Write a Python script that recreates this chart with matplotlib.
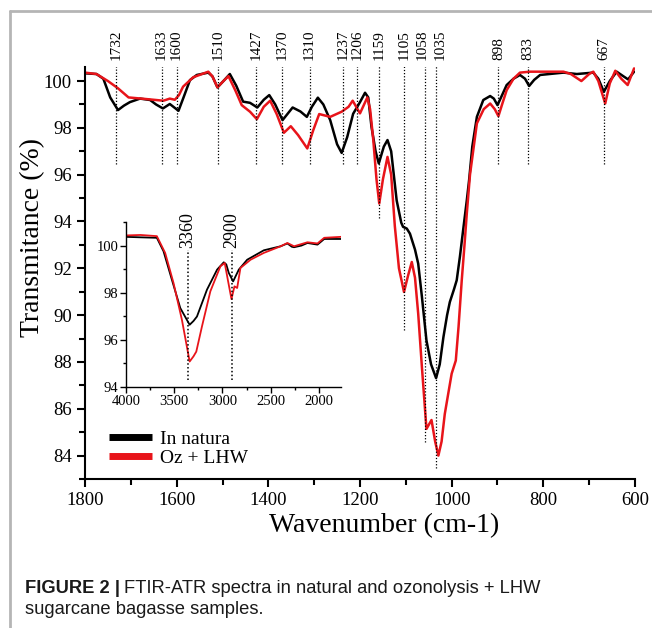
import numpy as np
import matplotlib
matplotlib.use("Agg")
import matplotlib.pyplot as plt
from matplotlib.lines import Line2D
from matplotlib.ticker import MultipleLocator

# main spectrum (1800-600 cm-1)
wn_natura = [1800, 1775, 1760, 1745, 1728, 1715, 1702, 1680, 1658, 1645, 1630, 1615, 1596, 1585,
             1571, 1556, 1531, 1522, 1511, 1498, 1484, 1470, 1455, 1440, 1424, 1410, 1398, 1385,
             1369, 1358, 1347, 1330, 1316, 1305, 1292, 1280, 1265, 1250, 1240, 1228, 1215, 1200,
             1189, 1182, 1175, 1166, 1159, 1148, 1140, 1132, 1120, 1110, 1106, 1098, 1091, 1080,
             1073, 1065, 1055, 1045, 1034, 1026, 1018, 1010, 1004, 995, 989, 982, 975, 967, 962,
             955, 945, 931, 916, 908, 900, 890, 880, 865, 851, 840, 831, 820, 807, 756, 727, 691,
             680, 668, 655, 640, 625, 615, 602]
t_natura = [100.33, 100.30, 100.1, 99.3, 98.76, 98.95, 99.1, 99.25, 99.19, 99.0, 98.83, 99.02, 98.73, 99.3,
            100.04, 100.26, 100.36, 100.2, 99.73, 100.0, 100.3, 99.8, 99.12, 99.07, 98.87, 99.2, 99.4, 99.0,
            98.33, 98.6, 98.87, 98.7, 98.47, 98.9, 99.29, 99.0, 98.33, 97.3, 96.93, 97.6, 98.6, 99.1,
            99.5, 99.3, 98.05, 97.0, 96.48, 97.2, 97.48, 97.0, 94.9, 93.95, 93.77, 93.7, 93.48, 92.8,
            92.2, 90.8, 88.92, 87.9, 87.31, 87.9, 89.06, 90.0, 90.56, 91.1, 91.49, 92.5, 93.63, 94.9, 95.76,
            97.2, 98.47, 99.19, 99.36, 99.25, 98.97, 99.4, 99.83, 100.1, 100.26, 100.1, 99.79, 100.05, 100.26, 100.36, 100.30, 100.36,
            100.1, 99.54, 100.0, 100.4, 100.2, 100.07, 100.4]

wn_oz = [1800, 1775, 1750, 1728, 1705, 1666, 1629, 1615, 1604, 1595, 1586, 1564, 1531, 1522, 1511,
         1498, 1487, 1472, 1458, 1440, 1425, 1410, 1396, 1382, 1366, 1351, 1335, 1315, 1302, 1289,
         1265, 1240, 1225, 1216, 1200, 1184, 1178, 1171, 1164, 1158, 1150, 1140, 1132, 1124, 1115,
         1104, 1095, 1087, 1080, 1073, 1065, 1055, 1044, 1036, 1029, 1022, 1015, 1007, 1000, 991,
         985, 978, 972, 967, 960, 945, 930, 916, 906, 898, 890, 880, 865, 851, 829, 756, 740, 717,
         700, 691, 680, 665, 655, 643, 630, 616, 602]
t_oz = [100.36, 100.30, 100.0, 99.69, 99.3, 99.23, 99.16, 99.25, 99.2, 99.4, 99.76, 100.16, 100.4, 100.2, 99.73,
        100.0, 100.21, 99.6, 98.97, 98.69, 98.37, 98.9, 99.16, 98.6, 97.79, 98.07, 97.69, 97.12, 97.9, 98.59,
        98.47, 98.69, 98.9, 99.16, 98.62, 99.3, 98.8, 97.48, 95.8, 94.77, 95.8, 96.76, 96.0, 93.8, 92.0,
        90.99, 91.7, 92.27, 91.6, 90.06, 87.8, 85.14, 85.52, 84.6, 84.0, 84.6, 85.78, 86.7, 87.5, 88.06,
        89.5, 91.49, 93.0, 94.34, 96.0, 98.19, 98.8, 99.04, 98.8, 98.5, 99.0, 99.61, 100.1, 100.36, 100.4, 100.4, 100.3, 100.0,
        100.3, 100.4, 100.0, 99.04, 99.9, 100.44, 100.1, 99.83, 100.54]

# inset spectrum (4000-1800 cm-1)
wn_ins_natura = [4000, 3850, 3680, 3611, 3524, 3437, 3340, 3300, 3264, 3160, 3055, 2986, 2960, 2934,
                 2889, 2830, 2743, 2570, 2396, 2326, 2280, 2257, 2180, 2118, 2014, 1944, 1770]
t_ins_natura = [100.37, 100.35, 100.33, 99.76, 98.55, 97.35, 96.64, 96.8, 96.99, 98.13, 98.98, 99.29, 99.2, 98.84,
                98.48, 98.98, 99.4, 99.8, 99.97, 100.09, 99.95, 99.93, 100.0, 100.11, 100.04, 100.28, 100.28]
wn_ins_oz = [4000, 3850, 3680, 3594, 3507, 3420, 3340, 3300, 3271, 3212, 3125, 3021, 2976, 2944,
             2906, 2875, 2847, 2813, 2708, 2570, 2396, 2326, 2257, 2118, 2014, 1944, 1770]
t_ins_oz = [100.43, 100.45, 100.4, 99.69, 98.41, 96.85, 95.08, 95.3, 95.5, 96.57, 98.06, 99.12, 99.26, 98.55,
            97.73, 98.27, 98.2, 99.05, 99.4, 99.69, 99.97, 100.11, 99.97, 100.14, 100.09, 100.33, 100.37]

# marked bands, how far down the dotted line goes, and where the label sits
peaks = [1732, 1633, 1600, 1510, 1427, 1370, 1310, 1237, 1206, 1159, 1105, 1058, 1035, 898, 833, 667]
peak_bottom = [96.45, 96.45, 96.45, 96.45, 96.45, 96.45, 96.45, 96.45, 96.45, 94.14, 89.35, 84.56, 83.49,
               96.45, 96.45, 96.45]
peak_label_x = [1732, 1633, 1600, 1510, 1427, 1370, 1310, 1237, 1206, 1159, 1103, 1064, 1024, 898, 833, 667]
ins_peaks = [3360, 2900]
ins_bottom = [94.3, 94.3]

serif = "Liberation Serif"
plt.rcParams["font.family"] = serif
plt.rcParams["axes.linewidth"] = 1.5
plt.rcParams["lines.solid_joinstyle"] = "round"
plt.rcParams["lines.solid_capstyle"] = "round"

fig = plt.figure(figsize=(6.52, 6.28), dpi=100)
W, H = 652, 628
ax = fig.add_axes([85 / W, 1 - 479 / H, 550 / W, 412 / H])

ax.plot(wn_natura, t_natura, color="black", lw=1.8, label="In natura")
ax.plot(wn_oz, t_oz, color="#e8141a", lw=1.8, label="Oz + LHW")

for p, b, lx in zip(peaks, peak_bottom, peak_label_x):
    ax.plot([p, p], [b, 100.68], ls=(0, (1, 1.5)), color="black", lw=0.9)
    ax.text(lx, 100.88, str(p), rotation=90, ha="center", va="bottom", fontsize=11, clip_on=False)

ax.set_xlim(1800, 600)
ax.set_ylim(83, 100.6)
ax.xaxis.set_major_locator(MultipleLocator(200))
ax.xaxis.set_minor_locator(MultipleLocator(100))
ax.yaxis.set_minor_locator(MultipleLocator(1))
ax.set_yticks([84, 86, 88, 90, 92, 94, 96, 98, 100])
for s in ["top", "right"]:
    ax.spines[s].set_visible(False)
ax.tick_params(which="major", direction="out", length=6, width=1.5, labelsize=13.5)
ax.tick_params(which="minor", direction="out", length=4, width=1.5)
ax.set_xlabel("Wavenumber (cm-1)", fontsize=20)
ax.xaxis.set_label_coords(0.543, -0.083)
ax.set_ylabel("Transmitance (%)", fontsize=20)
ax.yaxis.set_label_coords(-0.073, 0.585)

leg = ax.legend(loc="lower left", bbox_to_anchor=(0.03, 0.01), frameon=False, fontsize=14,
                handlelength=2.2, handletextpad=0.4, labelspacing=0.1, borderaxespad=0)
for ln in leg.get_lines():
    ln.set_linewidth(5)
    ln.set_solid_capstyle("butt")

# inset
ins = fig.add_axes([126 / W, 1 - 387 / H, 215 / W, 165 / H])
ins.patch.set_alpha(0)
ins.plot(wn_ins_natura, t_ins_natura, color="black", lw=1.3)
ins.plot(wn_ins_oz, t_ins_oz, color="#e8141a", lw=1.3)
for p, b in zip(ins_peaks, ins_bottom):
    ins.plot([p, p], [b, 99.8], ls=(0, (1, 1.5)), color="black", lw=1.1)
    ins.text(p, 99.9, str(p), rotation=90, ha="center", va="bottom", fontsize=13, clip_on=False)
ins.set_xlim(4000, 1770)
ins.set_ylim(94, 101)
ins.xaxis.set_major_locator(MultipleLocator(500))
ins.xaxis.set_minor_locator(MultipleLocator(250))
ins.set_yticks([94, 96, 98, 100])
ins.yaxis.set_minor_locator(MultipleLocator(1))
for s in ["top", "right"]:
    ins.spines[s].set_visible(False)
for s in ["left", "bottom"]:
    ins.spines[s].set_linewidth(1.0)
ins.tick_params(which="major", direction="out", length=4, width=1.0, labelsize=10.5, pad=1.5)
ins.tick_params(which="minor", direction="out", length=2.5, width=1.0)

# page frame
gray = "#b5b5b5"
fig.add_artist(Line2D([10 / W, 1], [1 - 11 / H, 1 - 11 / H], color=gray, lw=2))
fig.add_artist(Line2D([10 / W, 10 / W], [0, 1 - 11 / H], color=gray, lw=2))

# caption
cap_font = "Liberation Sans"
cap_size = 13.2
t1 = fig.text(25 / W, 1 - 593 / H, "FIGURE 2 |", fontsize=cap_size, fontweight="bold",
              family=cap_font, va="baseline", color="#1a1a1a")
fig.canvas.draw()
bb = t1.get_window_extent()
fig.text((bb.x1 + 4) / W, 1 - 593 / H, "FTIR-ATR spectra in natural and ozonolysis + LHW",
         fontsize=cap_size, family=cap_font, va="baseline", color="#1a1a1a")
fig.text(25 / W, 1 - 614 / H, "sugarcane bagasse samples.", fontsize=cap_size, family=cap_font,
         va="baseline", color="#1a1a1a")

fig.savefig("out.png", dpi=100)
